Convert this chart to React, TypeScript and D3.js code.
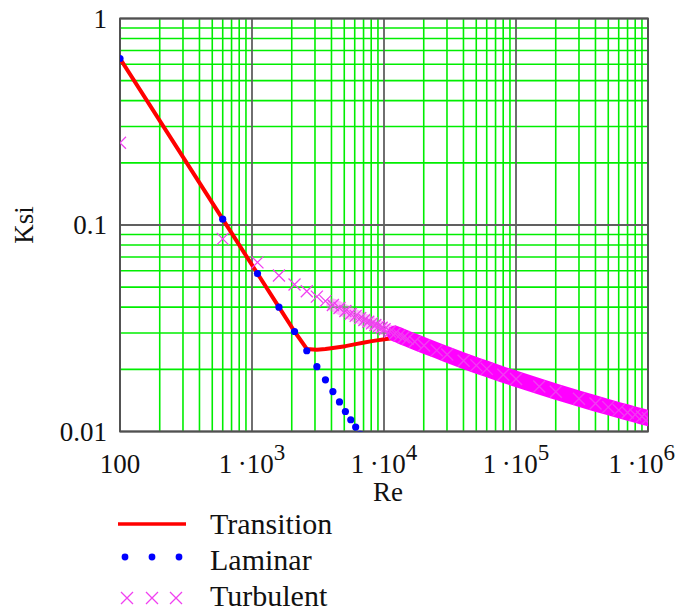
import React from 'react';
import * as d3 from 'd3';

// Reynolds number and friction factor values
const laminarRe = [100, 600, 1100, 1600, 2100, 2600, 3100, 3600, 4100, 4600, 5100, 5600, 6100, 6600];
const laminarKsi = [0.64, 0.1067, 0.0582, 0.04, 0.0305, 0.0246, 0.0206, 0.0178, 0.0156, 0.0139, 0.0125, 0.0114, 0.0105, 0.0097];

const transRe = [100, 600, 1100, 1600, 2100, 2600, 3100, 3600, 4100, 5100, 6100, 7100, 8100, 9100, 10100, 11100, 12100, 13100, 15100, 20100, 30100, 50100, 100100, 200100, 500100, 1000000];
const transKsi = [0.64, 0.1067, 0.0582, 0.04, 0.0305, 0.0251, 0.0249, 0.0251, 0.0254, 0.0259, 0.0265, 0.027, 0.0274, 0.0277, 0.028, 0.0282, 0.0284, 0.0285, 0.0281, 0.0261, 0.0236, 0.0209, 0.018, 0.0156, 0.0131, 0.0116];

const turbRe = [100, 600, 1100, 1600, 2100, 2600, 3100, 3600, 4100, 4600, 5100, 5600, 6100, 6600, 7100, 7600, 8100, 8600, 9100, 9600, 10100, 11100, 12100, 13100, 14100, 15100, 17100, 20100, 25100, 30100, 40100, 50100, 60100, 80100, 100100, 150100, 200100, 300100, 400100, 500100, 600100, 700100, 800100, 900100, 1000000];
const turbKsi = [0.25, 0.0857, 0.0659, 0.0569, 0.0515, 0.0478, 0.045, 0.0428, 0.041, 0.0396, 0.0383, 0.0372, 0.0363, 0.0354, 0.0347, 0.034, 0.0334, 0.0328, 0.0323, 0.0318, 0.0313, 0.0305, 0.0298, 0.0292, 0.0286, 0.0281, 0.0272, 0.0261, 0.0247, 0.0236, 0.022, 0.0209, 0.0201, 0.01884, 0.01797, 0.01652, 0.01559, 0.01442, 0.01366, 0.01312, 0.01269, 0.01235, 0.01207, 0.01182, 0.01161];

const xDecades = [100, 1e3, 1e4, 1e5, 1e6];
const xTickLabels = [['100', ''], ['1\u2009·10', '3'], ['1\u2009·10', '4'], ['1\u2009·10', '5'], ['1\u2009·10', '6']];
const yDecades = [0.01, 0.1, 1];
const yTickLabels = ['0.01', '0.1', '1'];

const legendItems = ['Transition', 'Laminar', 'Turbulent'];

const W = 678, H = 614;
const left = 120, right = 648, top = 18.5, bottom = 431.5;
const font = '"Liberation Serif", "Times New Roman", serif';

export default function App() {
  const x = d3.scaleLog().domain([100, 1e6]).range([left, right]);
  const y = d3.scaleLog().domain([0.01, 1]).range([bottom, top]);

  const minorX: number[] = [];
  for (let d = 100; d < 1e6; d *= 10) for (let k = 2; k <= 9; k++) minorX.push(k * d);
  const minorY: number[] = [];
  for (let d = 0.01; d < 0.99; d *= 10) for (let k = 2; k <= 9; k++) minorY.push(k * d);

  const line = d3.line<[number, number]>().x(p => x(p[0])).y(p => y(p[1]));
  const trans = transRe.map((r, i) => [r, transKsi[i]] as [number, number]);
  const turb = turbRe.map((r, i) => [r, turbKsi[i]] as [number, number]);
  const bandLight = turb.filter(p => p[0] >= 4100 && p[0] <= 17100);
  const bandSolid = turb.filter(p => p[0] >= 12100);

  const cross = (cx: number, cy: number, s: number, key: string) => (
    <path key={key} d={`M${cx - s},${cy - s}L${cx + s},${cy + s}M${cx - s},${cy + s}L${cx + s},${cy - s}`}
      stroke="#f040f0" strokeWidth={1.3} fill="none" />
  );

  return (
    <svg width={W} height={H} style={{ position: 'absolute', left: 0, top: 0, background: '#fff' }}>
      <defs>
        <clipPath id="plot">
          <rect x={left} y={top} width={right - left} height={bottom - top} />
        </clipPath>
      </defs>

      {/* grid */}
      <g stroke="#00ee00" strokeWidth={1.6}>
        {minorX.map(v => <line key={'mx' + v} x1={x(v)} x2={x(v)} y1={top} y2={bottom} />)}
        {minorY.map(v => <line key={'my' + v} x1={left} x2={right} y1={y(v)} y2={y(v)} />)}
      </g>
      <g stroke="#606060" strokeWidth={1.8}>
        {xDecades.map(v => <line key={'dx' + v} x1={x(v)} x2={x(v)} y1={top} y2={bottom} />)}
        {yDecades.map(v => <line key={'dy' + v} x1={left} x2={right} y1={y(v)} y2={y(v)} />)}
      </g>
      <rect x={left} y={top} width={right - left} height={bottom - top} fill="none" stroke="#505050" strokeWidth={1.8} />

      {/* series */}
      <g clipPath="url(#plot)">
        <path d={line(bandLight) || ''} stroke="#ff40ff" strokeOpacity={0.4} strokeWidth={13} fill="none" strokeLinecap="round" />
        <path d={line(trans) || ''} stroke="#ff0000" strokeWidth={4} fill="none" strokeLinejoin="round" />
        <path d={line(bandSolid) || ''} stroke="#ff00ff" strokeWidth={16} fill="none" strokeLinecap="round" />
        {turb.map((p, i) => cross(x(p[0]), y(p[1]), 6, 't' + i))}
        {laminarRe.map((r, i) => <circle key={'l' + i} cx={x(r)} cy={y(laminarKsi[i])} r={3.6} fill="#0000ff" />)}
      </g>

      {/* axis labels */}
      <g fontFamily={font} fontSize={27} fill="#111">
        {xDecades.map((v, i) => {
          const last = i === xDecades.length - 1;
          return (
            <text key={'xl' + v} x={last ? 675 : x(v)} y={473} textAnchor={last ? 'end' : 'middle'}>
              {xTickLabels[i][0]}
              {xTickLabels[i][1] && <tspan dy={-13} fontSize={23}>{xTickLabels[i][1]}</tspan>}
            </text>
          );
        })}
        {yDecades.map((v, i) => (
          <text key={'yl' + v} x={107} y={y(v) + 9} textAnchor="end">{yTickLabels[i]}</text>
        ))}
        <text x={388} y={501} textAnchor="middle">Re</text>
        <text transform={`translate(33,225) rotate(-90)`} textAnchor="middle">Ksi</text>
      </g>

      {/* legend */}
      <g fontFamily={font} fontSize={30} fill="#111">
        <line x1={118} x2={186} y1={524} y2={524} stroke="#ff0000" strokeWidth={3.5} />
        {[125, 152, 179].map(cx => <circle key={'lg' + cx} cx={cx} cy={557} r={3.4} fill="#0000ff" />)}
        {[127, 152, 176].map(cx => cross(cx, 598, 6, 'lc' + cx))}
        {legendItems.map((t, i) => (
          <text key={t} x={210} y={534 + i * 36}>{t}</text>
        ))}
      </g>
    </svg>
  );
}
